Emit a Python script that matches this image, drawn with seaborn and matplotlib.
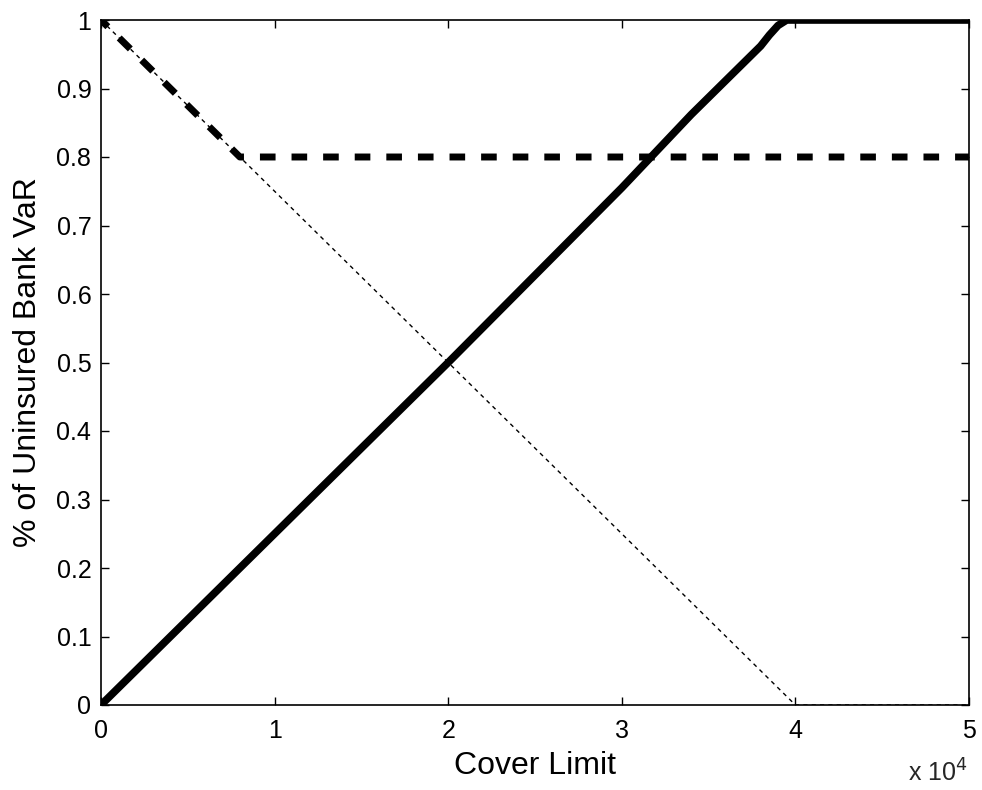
import matplotlib
matplotlib.use("Agg")
import matplotlib.pyplot as plt
import seaborn as sns
import pandas as pd
from matplotlib.ticker import FuncFormatter

# Data
solid_x = [0, 20000, 30000, 34000, 36000, 37000, 38000, 38500, 39000, 39500, 50000]
solid_y = [0, 0.5, 0.755, 0.862, 0.912, 0.937, 0.962, 0.978, 0.992, 1.0, 1.0]
dashed_x = [0, 8000, 50000]
dashed_y = [1.0, 0.8, 0.8]
dotted_x = [0, 40000, 50000]
dotted_y = [1.0, 0.0, 0.0]
x_ticks = [0, 10000, 20000, 30000, 40000, 50000]
y_ticks = [0, 0.1, 0.2, 0.3, 0.4, 0.5, 0.6, 0.7, 0.8, 0.9, 1.0]

sns.set_theme(style="white")
plt.rcParams['font.family'] = ['Liberation Sans', 'DejaVu Sans']

W, H = 982, 790
fig = plt.figure(figsize=(W / 100, H / 100), dpi=100)
L, R, T, B = 101, 969, 20, 705
ax = fig.add_axes([L / W, 1 - B / H, (R - L) / W, (B - T) / H])

sns.lineplot(x=dotted_x, y=dotted_y, ax=ax, color='black', linewidth=1.0,
             linestyle=(0, (3, 3)), sort=False, estimator=None)
sns.lineplot(x=dashed_x, y=dashed_y, ax=ax, color='black', linewidth=5.0,
             linestyle=(0.87, (2.25, 2.3)), sort=False, estimator=None)
line = sns.lineplot(x=solid_x, y=solid_y, ax=ax, color='black', linewidth=5.5,
                    sort=False, estimator=None)
ax.lines[-1].set_solid_joinstyle('round')

ax.set_xlim(0, 50000)
ax.set_ylim(0, 1)
ax.set_xticks(x_ticks)
ax.set_yticks(y_ticks)
ax.xaxis.set_major_formatter(FuncFormatter(lambda v, p: f"{v/1e4:g}"))
ax.yaxis.set_major_formatter(FuncFormatter(lambda v, p: f"{v:g}"))
ax.tick_params(direction='in', length=6, width=1, top=True, right=True,
               labelsize=18, colors='black', bottom=True, left=True)
ax.tick_params(axis='x', pad=10)
ax.tick_params(axis='y', pad=7)
for s in ax.spines.values():
    s.set_color('black')
    s.set_linewidth(1.2)
    s.set_visible(True)

ax.set_xlabel("Cover Limit", fontsize=23, color='black', labelpad=6)
ax.set_ylabel("% of Uninsured Bank VaR", fontsize=23, color='black', labelpad=10)
fig.text(908 / W, 1 - 782 / H, r"x 10$^4$", fontsize=18, ha='left', va='baseline')

fig.savefig("out.png", dpi=100, facecolor='white')
